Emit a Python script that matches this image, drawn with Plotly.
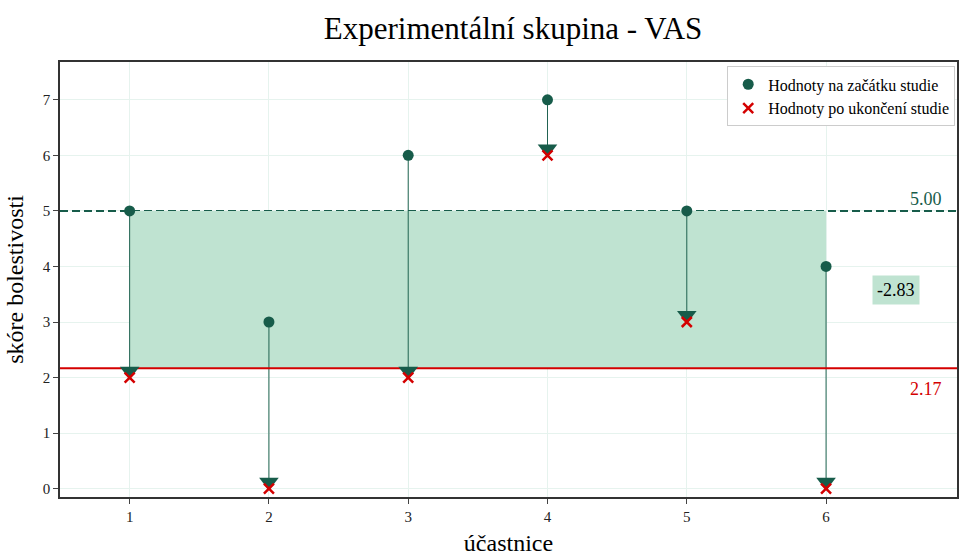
import plotly.graph_objects as go

participants = [1, 2, 3, 4, 5, 6]
start_vals = [5, 3, 6, 7, 5, 4]
end_vals = [2, 0, 2, 6, 3, 0]
title = "Experimentální skupina - VAS"
x_title = "účastnice"
y_title = "skóre bolestivosti"
legend_names = ["Hodnoty na začátku studie", "Hodnoty po ukončení studie"]

start_mean = sum(start_vals) / len(start_vals)
end_mean = sum(end_vals) / len(end_vals)
diff = end_mean - start_mean

X_RANGE = [0.5, 6.94]
Y_RANGE = [-0.15, 7.68]

DARK = "#175c4a"
RED = "#d40000"
FILL = "#bfe3d1"
FONT = "Liberation Serif"

fig = go.Figure()

# dashed mean line (below the band)
fig.add_trace(go.Scatter(x=X_RANGE, y=[start_mean, start_mean], mode="lines",
                         line=dict(color=DARK, width=2, dash="8px,4px"),
                         showlegend=False, hoverinfo="skip"))

# shaded band between means
fig.add_trace(go.Scatter(
    x=[participants[0], participants[-1], participants[-1], participants[0]],
    y=[end_mean, end_mean, start_mean, start_mean],
    fill="toself", fillcolor=FILL, line=dict(width=0), mode="lines",
    showlegend=False, hoverinfo="skip"))

# stems
sx, sy = [], []
for p, s, e in zip(participants, start_vals, end_vals):
    sx += [p, p, None]
    sy += [s, e + 0.12, None]
fig.add_trace(go.Scatter(x=sx, y=sy, mode="lines",
                         line=dict(color=DARK, width=1), opacity=0.95,
                         showlegend=False, hoverinfo="skip"))

# red mean line
fig.add_trace(go.Scatter(x=X_RANGE, y=[end_mean, end_mean], mode="lines",
                         line=dict(color=RED, width=2),
                         showlegend=False, hoverinfo="skip"))

# arrow heads
fig.add_trace(go.Scatter(x=participants, y=[e + 0.12 for e in end_vals], mode="markers",
                         marker=dict(symbol="triangle-down", size=17, color=DARK),
                         showlegend=False, hoverinfo="skip"))

fig.add_trace(go.Scatter(x=participants, y=start_vals, mode="markers",
                         name=legend_names[0],
                         marker=dict(symbol="circle", size=11, color=DARK)))
fig.add_trace(go.Scatter(x=participants, y=end_vals, mode="markers",
                         name=legend_names[1],
                         marker=dict(symbol="x-thin", size=10, color=RED,
                                     line=dict(color=RED, width=2.5))))

fig.add_annotation(x=6.72, y=start_mean, text=f"{start_mean:.2f}", showarrow=False,
                   yshift=12, font=dict(color=DARK, size=18, family=FONT))
fig.add_annotation(x=6.72, y=end_mean, text=f"{end_mean:.2f}", showarrow=False,
                   yshift=-21, font=dict(color=RED, size=18, family=FONT))
fig.add_annotation(x=6.5, y=(start_mean + end_mean) / 2, text=f"{diff:.2f}", showarrow=False,
                   bgcolor=FILL, borderpad=4,
                   font=dict(color="black", size=18, family=FONT))

fig.update_layout(
    width=959, height=557,
    margin=dict(l=60, r=0, t=62, b=60),
    paper_bgcolor="white", plot_bgcolor="white",
    font=dict(family=FONT, color="#222"),
    title=dict(text=title, x=0.535, xanchor="center", y=0.95, yanchor="middle",
               font=dict(size=31, family=FONT, color="black")),
    legend=dict(x=0.998, y=0.99, xanchor="right", yanchor="top",
                bordercolor="#cccccc", borderwidth=1, bgcolor="white",
                font=dict(size=16, family=FONT, color="black"), itemwidth=30),
    showlegend=True,
)
fig.update_xaxes(range=X_RANGE, tickvals=participants, ticks="outside", ticklen=5,
                 tickfont=dict(size=15), showline=True, linecolor="#333", linewidth=1.5,
                 mirror=True, showgrid=True, gridcolor="#e6f3ee", zeroline=False,
                 title=dict(text=x_title, font=dict(size=24, color="black"), standoff=10))
fig.update_yaxes(range=Y_RANGE, tickvals=list(range(0, 8)), ticks="outside", ticklen=5,
                 tickfont=dict(size=15), showline=True, linecolor="#333", linewidth=1.5,
                 mirror=True, showgrid=True, gridcolor="#e6f3ee", zeroline=False,
                 title=dict(text=y_title, font=dict(size=24, color="black"), standoff=12))

fig.write_html("out.html")
